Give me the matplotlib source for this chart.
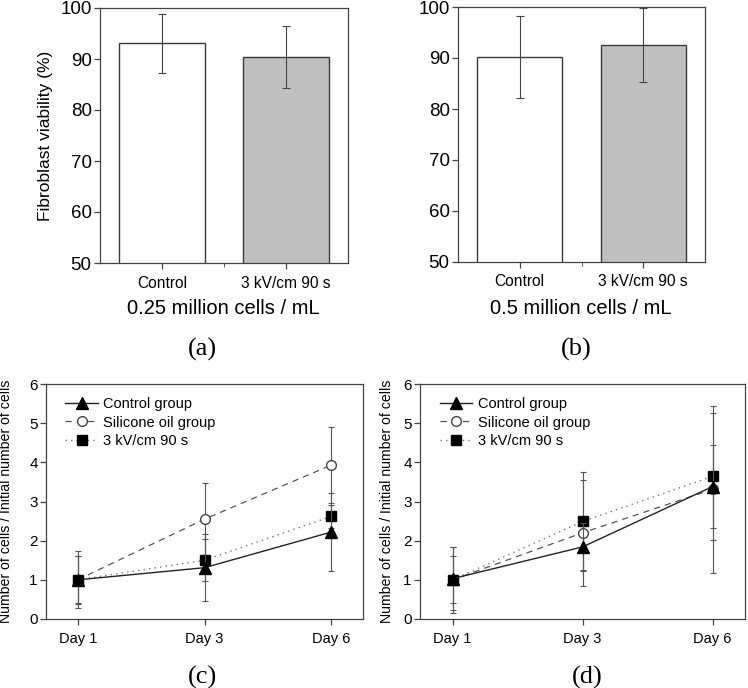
import matplotlib
matplotlib.use("Agg")
from matplotlib import pyplot as plt
import numpy as np

plt.rcParams["font.family"] = ["Liberation Sans", "DejaVu Sans"]

# ---- data: viability bars ----
groups = ["Control", "3 kV/cm 90 s"]
viab_025 = [93.1, 90.4]
viab_025_err = [5.8, 6.1]
viab_05 = [90.2, 92.6]
viab_05_err = [8.1, 7.3]

# ---- data: proliferation lines ----
days = ["Day 1", "Day 3", "Day 6"]
series = ["Control group", "Silicone oil group", "3 kV/cm 90 s"]

c_control = [1.0, 1.31, 2.22]
c_control_err = [0.73, 0.86, 1.0]
c_silicone = [1.0, 2.55, 3.93]
c_silicone_err = [0.6, 0.91, 0.98]
c_field = [1.0, 1.5, 2.62]
c_field_err = [0.61, 0.54, 0.3]

d_control = [1.03, 1.84, 3.38]
d_control_err = [0.8, 0.6, 1.05]
d_silicone = [1.0, 2.2, 3.31]
d_silicone_err = [0.84, 1.35, 2.13]
d_field = [1.0, 2.49, 3.64]
d_field_err = [0.6, 1.27, 1.62]

W, H = 748, 688
fig = plt.figure(figsize=(W / 100, H / 100), dpi=100)


def px_axes(left, top, right, bottom):
    return fig.add_axes([left / W, 1 - bottom / H, (right - left) / W, (bottom - top) / H])


spine_col = "#444444"


def style(ax, xsize, ysize):
    for s in ax.spines.values():
        s.set_color(spine_col)
        s.set_linewidth(0.9)
    ax.tick_params(direction="out", length=4, width=0.9, color=spine_col, pad=2)
    ax.tick_params(axis="x", labelsize=xsize, pad=5)
    ax.tick_params(axis="y", labelsize=ysize)


def bar_panel(ax, vals, errs):
    x = np.arange(1, len(vals) + 1)
    ax.bar(x, vals, width=0.69, color=["white", "#c0c0c0"], edgecolor="#3a3a3a",
           linewidth=1.0, zorder=2)
    ax.errorbar(x, vals, yerr=errs, fmt="none", ecolor="#444444", elinewidth=0.8,
                capsize=3, capthick=0.8, zorder=3)
    ax.set_xlim(0.5, 2.5)
    ax.set_ylim(50, 100)
    ax.set_yticks(range(50, 101, 10))
    ax.set_xticks(x)
    ax.set_xticklabels(groups)
    ax.set_xticks([1.5], minor=True)
    style(ax, 11.2, 13.5)
    ax.tick_params(axis="x", which="minor", direction="out", length=3, color=spine_col)


ax_a = px_axes(100, 8, 348, 263)
bar_panel(ax_a, viab_025, viab_025_err)
ax_a.set_ylabel("Fibroblast viability (%)", fontsize=12.5)
ax_a.yaxis.set_label_coords(-0.19, 0.5)

ax_b = px_axes(458, 7, 705, 262)
bar_panel(ax_b, viab_05, viab_05_err)

fig.text(223 / W, 1 - 309 / H, "0.25 million cells / mL", fontsize=14.5, ha="center", va="center")
fig.text(581 / W, 1 - 309 / H, "0.5 million cells / mL", fontsize=14.5, ha="center", va="center")


def line_panel(ax, ctrl, ctrl_e, sil, sil_e, fld, fld_e, ylab_x):
    x = np.arange(len(days))
    ebkw = dict(ecolor="#555555", elinewidth=0.8, capsize=2.5, capthick=0.8)
    e1 = ax.errorbar(x, ctrl, yerr=ctrl_e, color="#222222", linestyle="-", linewidth=1.0,
                     marker="^", markersize=8, markerfacecolor="black", markeredgecolor="black",
                     zorder=4, **ebkw)
    e2 = ax.errorbar(x, sil, yerr=sil_e, color="#555555", linestyle=(0, (5, 4)), linewidth=0.9,
                     marker="o", markersize=7, markerfacecolor="white", markeredgecolor="#444444",
                     zorder=3, **ebkw)
    e3 = ax.errorbar(x, fld, yerr=fld_e, color="#777777", linestyle=(0, (1, 3)), linewidth=1.0,
                     marker="s", markersize=7, markerfacecolor="black", markeredgecolor="black",
                     zorder=3, **ebkw)
    ax.set_xlim(-0.25, 2.25)
    ax.set_ylim(0, 6)
    ax.set_yticks(range(0, 7))
    ax.set_xticks(x)
    ax.set_xticklabels(days)
    style(ax, 10.5, 11)
    ax.set_ylabel("Number of cells / Initial number of cells", fontsize=10.2)
    ax.yaxis.set_label_coords(ylab_x, 0.5)
    ax.legend([e1[0], e2[0], e3[0]], series, loc="upper left", frameon=False, fontsize=10.5,
              handlelength=2.2, handletextpad=0.4, labelspacing=0.3, borderaxespad=0.5,
              bbox_to_anchor=(0.02, 1.0))


ax_c = px_axes(46, 384, 363, 619)
line_panel(ax_c, c_control, c_control_err, c_silicone, c_silicone_err,
           c_field, c_field_err, -0.105)

ax_d = px_axes(420, 384, 745, 619)
line_panel(ax_d, d_control, d_control_err, d_silicone, d_silicone_err,
           d_field, d_field_err, -0.08)

serif = ["Liberation Serif", "DejaVu Serif"]
fig.text(202 / W, 1 - 349 / H, "(a)", fontsize=19, family=serif, ha="center", va="center")
fig.text(576 / W, 1 - 349 / H, "(b)", fontsize=19, family=serif, ha="center", va="center")
fig.text(202 / W, 1 - 677 / H, "(c)", fontsize=19, family=serif, ha="center", va="center")
fig.text(587 / W, 1 - 677 / H, "(d)", fontsize=19, family=serif, ha="center", va="center")

fig.savefig("out.png", dpi=100)
